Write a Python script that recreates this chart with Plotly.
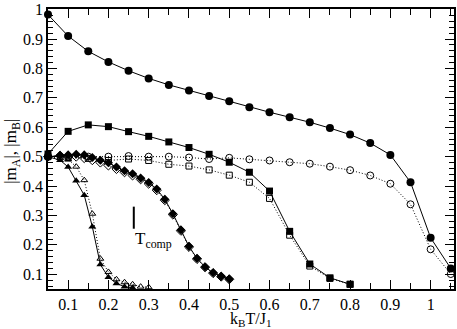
import plotly.graph_objects as go

# filled circles (solid) and open circles (dotted)
x_circ = [0.05, 0.1, 0.15, 0.2, 0.25, 0.3, 0.35, 0.4, 0.45, 0.5, 0.55, 0.6, 0.65, 0.7,
          0.75, 0.8, 0.85, 0.9, 0.95, 1.0, 1.05]
y_circ_full = [0.983, 0.910, 0.858, 0.822, 0.792, 0.766, 0.744, 0.725, 0.706, 0.688, 0.668,
               0.651, 0.634, 0.617, 0.597, 0.575, 0.546, 0.506, 0.413, 0.224, 0.120]
y_circ_open = [0.500, 0.500, 0.500, 0.500, 0.502, 0.500, 0.500, 0.497, 0.492, 0.496, 0.491,
               0.487, 0.481, 0.476, 0.466, 0.454, 0.436, 0.408, 0.338, 0.185, 0.101]

# filled squares (solid) and open squares (dotted)
x_sq = [0.05, 0.1, 0.15, 0.2, 0.25, 0.3, 0.35, 0.4, 0.45, 0.5, 0.55, 0.6, 0.65, 0.7, 0.75, 0.8]
y_sq_full = [0.509, 0.586, 0.608, 0.602, 0.585, 0.569, 0.550, 0.531, 0.508, 0.481, 0.447,
             0.383, 0.246, 0.135, 0.088, 0.066]
y_sq_open = [0.500, 0.497, 0.494, 0.487, 0.492, 0.487, 0.474, 0.468, 0.455, 0.437, 0.413,
             0.358, 0.233, 0.128, 0.086, 0.066]

# diamonds
x_dia = [0.05, 0.08, 0.1, 0.12, 0.14, 0.16, 0.18, 0.2, 0.22, 0.24, 0.26, 0.28, 0.3, 0.32,
         0.34, 0.36, 0.38, 0.4, 0.42, 0.44, 0.46, 0.48, 0.5]
y_dia_full = [0.500, 0.505, 0.506, 0.508, 0.506, 0.497, 0.488, 0.479, 0.465, 0.452, 0.442,
              0.427, 0.412, 0.390, 0.355, 0.306, 0.251, 0.195, 0.154, 0.125, 0.105, 0.093, 0.084]
y_dia_open = [0.500, 0.503, 0.502, 0.500, 0.495, 0.488, 0.480, 0.470, 0.458, 0.447, 0.436,
              0.423, 0.408, 0.386, 0.352, 0.303, 0.248, 0.193, 0.152, 0.124, 0.104, 0.092, 0.083]

# triangles
x_tri_full = [0.05, 0.08, 0.1, 0.12, 0.14, 0.16, 0.18, 0.2, 0.22, 0.24, 0.26]
y_tri_full = [0.500, 0.488, 0.465, 0.418, 0.369, 0.262, 0.133, 0.090, 0.069, 0.058, 0.054]
x_tri_open = [0.05, 0.08, 0.1, 0.12, 0.14, 0.16, 0.18, 0.2, 0.22, 0.24, 0.26, 0.28, 0.3]
y_tri_open = [0.500, 0.495, 0.490, 0.466, 0.420, 0.306, 0.153, 0.108, 0.083, 0.073, 0.066,
              0.058, 0.056]

t_comp = 0.263

FONT = "Liberation Serif"

fig = go.Figure()


def add(x, y, symbol, size, dotted):
    open_ = symbol.endswith("-open")
    fig.add_trace(go.Scatter(
        x=x, y=y, mode="lines+markers", cliponaxis=False,
        line=dict(color="black", width=1, dash="1px,2px" if dotted else "solid"),
        marker=dict(symbol=symbol, size=size, color="black",
                    line=dict(color="black", width=1 if open_ else 0)),
        showlegend=False,
    ))


add(x_circ, y_circ_open, "circle-open", 7, True)
add(x_circ, y_circ_full, "circle", 8, False)
add(x_sq, y_sq_open, "square-open", 6, True)
add(x_sq, y_sq_full, "square", 7, False)
add(x_dia, y_dia_open, "diamond-open", 7, True)
add(x_dia, y_dia_full, "diamond", 7, False)
add(x_tri_open, y_tri_open, "triangle-up-open", 6, True)
add(x_tri_full, y_tri_full, "triangle-up", 7, False)

fig.add_shape(type="line", x0=t_comp, x1=t_comp, y0=0.255, y1=0.330,
              line=dict(color="black", width=2))
fig.add_annotation(x=t_comp, y=0.215, text="T<sub>comp</sub>", showarrow=False,
                   xanchor="left", yanchor="middle", xshift=-1,
                   font=dict(family=FONT, size=17, color="black"))

# axis titles placed as annotations for exact positioning
fig.add_annotation(xref="paper", yref="paper", x=0.5, y=0, yshift=-30,
                   text="k<sub>B</sub>T/J<sub>1</sub>", showarrow=False,
                   xanchor="center", yanchor="middle",
                   font=dict(family=FONT, size=16, color="black"))
fig.add_annotation(xref="paper", yref="paper", x=0, y=0.49, xshift=-36,
                   text="|m<sub>A</sub>|, |m<sub>B</sub>|", showarrow=False, textangle=-90,
                   xanchor="center", yanchor="middle",
                   font=dict(family=FONT, size=17, color="black"))

axis_common = dict(
    showgrid=False, zeroline=False, showline=True, linecolor="black", linewidth=1.5,
    mirror="allticks", ticks="inside", ticklen=9, tickwidth=1, tickcolor="black",
    tickfont=dict(family=FONT, size=16, color="black"), ticklabeloverflow="allow",
)

fig.update_xaxes(
    range=[0.05, 1.058], tick0=0, dtick=0.1,
    minor=dict(ticks="inside", dtick=0.05, ticklen=6, tickcolor="black"),
    **axis_common,
)
fig.update_yaxes(
    range=[0.05, 1.002], tick0=0, dtick=0.1,
    minor=dict(ticks="inside", dtick=0.02, ticklen=5, tickcolor="black"),
    **axis_common,
)

fig.update_layout(
    width=457, height=329,
    margin=dict(l=48, r=1, t=6, b=40),
    plot_bgcolor="white", paper_bgcolor="white",
    font=dict(family=FONT, color="black"),
)

fig.write_html("out.html", config={"displayModeBar": False},
               post_script="document.body.style.margin='0';document.body.style.overflow='hidden';")
